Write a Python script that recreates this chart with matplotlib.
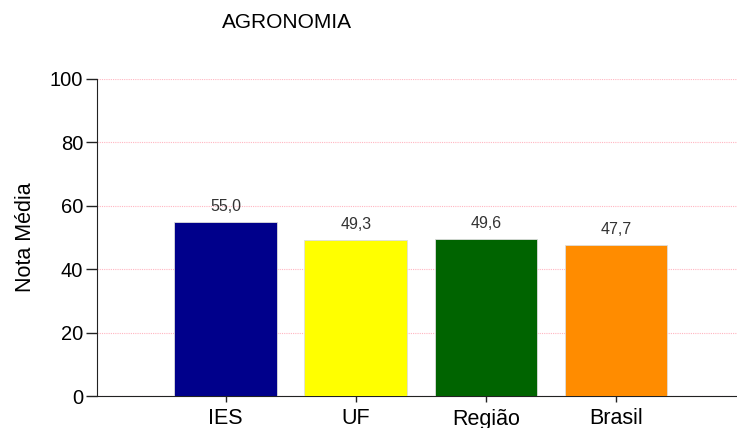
import matplotlib
matplotlib.use("Agg")
import matplotlib.pyplot as plt

categories = ["IES", "UF", "Região", "Brasil"]
values = [55.0, 49.3, 49.6, 47.7]
colors = ["#00008B", "#FFFF00", "#006400", "#FF8C00"]
yticks = [0, 20, 40, 60, 80, 100]
title = "AGRONOMIA"
ylabel = "Nota Média"

plt.rcParams['font.family'] = ['Liberation Sans', 'DejaVu Sans']

fig = plt.figure(figsize=(7.37, 4.28), dpi=100)
ax = fig.add_axes([97/737, 1-396/428, 1-97/737, (396-79)/428])

x = list(range(len(categories)))
bars = ax.bar(x, values, width=0.79, color=colors, edgecolor="#dddddd", linewidth=0.6, zorder=3)
for xi, v in zip(x, values):
    ax.text(xi, v + 2.3, f"{v:.1f}".replace(".", ","), ha="center", va="bottom",
            fontsize=11.5, color="#333333")

ax.set_xlim(-0.99, 3.93)
ax.set_ylim(0, 100)
ax.set_yticks(yticks)
ax.set_yticklabels([str(t) for t in yticks], fontsize=14.5)
ax.set_xticks(x)
ax.set_xticklabels(categories, fontsize=15.5)
ax.tick_params(axis='y', length=8, width=1, direction='out', pad=2, color='#222222')
ax.tick_params(axis='x', length=4, width=1, direction='out', pad=5, color='#222222')

ax.grid(axis='y', color='#FFB6C1', linestyle=(0, (1, 1)), linewidth=0.8, zorder=0)
ax.set_axisbelow(True)
for s in ['top', 'right']:
    ax.spines[s].set_visible(False)
ax.spines['left'].set_color('#222222')
ax.spines['bottom'].set_color('#222222')

ax.set_ylabel(ylabel, fontsize=15.5, labelpad=10)
fig.text(287/737, 1-22/428, title, ha='center', va='center', fontsize=15)

fig.savefig("out.png", dpi=100)
